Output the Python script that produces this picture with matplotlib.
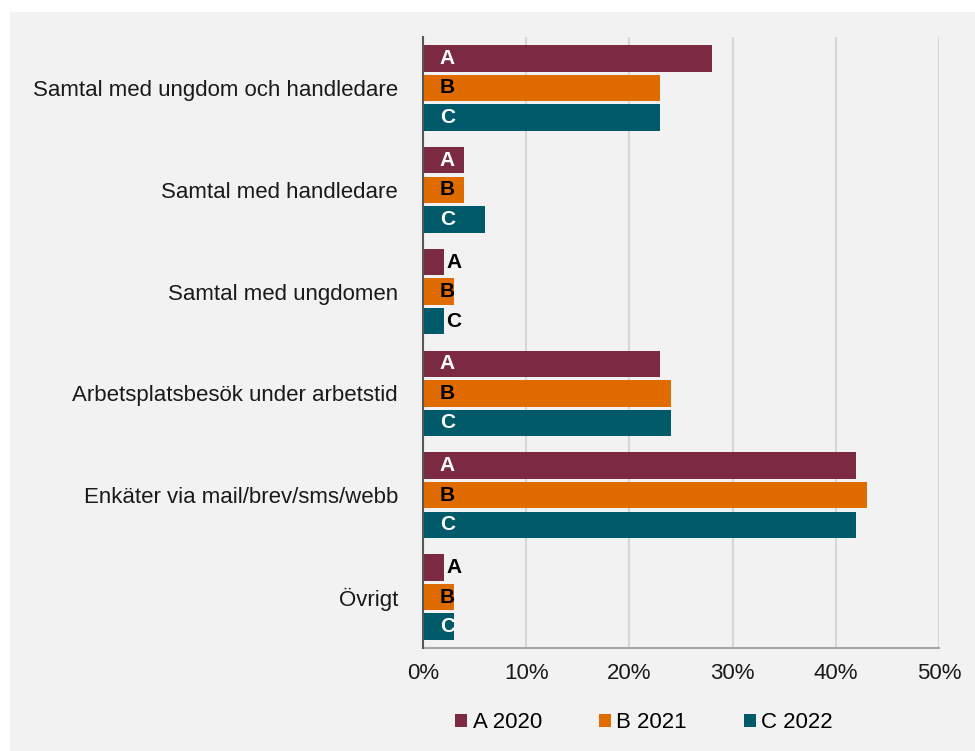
import numpy as np
import matplotlib.pyplot as plt
from matplotlib.patches import Rectangle

plt.rcParams['font.family'] = ['Liberation Sans', 'DejaVu Sans']

# data (percent)
categories = ['Samtal med ungdom och handledare', 'Samtal med handledare',
              'Samtal med ungdomen', 'Arbetsplatsbesök under arbetstid',
              'Enkäter via mail/brev/sms/webb', 'Övrigt']
series_names = ['A 2020', 'B 2021', 'C 2022']
bar_letters = ['A', 'B', 'C']
vals_a = [28, 4, 2, 23, 42, 2]
vals_b = [23, 4, 3, 24, 43, 3]
vals_c = [23, 6, 2, 24, 42, 3]
xticks = [0, 10, 20, 30, 40, 50]

colors = ['#7B2A42', '#E06C00', '#005A69']
text_inside = ['white', 'black', 'white']

fig = plt.figure(figsize=(9.75, 7.51), dpi=100)
fig.patches.append(Rectangle((10/975, 0), 1, 1 - 12/751, transform=fig.transFigure,
                             facecolor='#f2f2f2', edgecolor='none', zorder=-10))
ax = fig.add_axes([423/975, 1 - 648/751, (939-423)/975, (648-37)/751])
ax.set_facecolor('none')

y = np.arange(len(categories))
pitch = 0.29
height = 0.26
for i, (vals, c) in enumerate(zip([vals_a, vals_b, vals_c], colors)):
    pos = y + (i - 1) * pitch
    ax.barh(pos, vals, height=height, color=c, label=series_names[i], zorder=3)
    for p, v in zip(pos, vals):
        if v <= 2:
            # too short: letter goes just past the bar end
            ax.annotate(bar_letters[i], (v, p), xytext=(2, 0), textcoords='offset points',
                        ha='left', va='center', fontsize=15, fontweight='bold', color='black')
        else:
            ax.annotate(bar_letters[i], (0, p), xytext=(12, 0), textcoords='offset points',
                        ha='left', va='center', fontsize=15, fontweight='bold', color=text_inside[i])

ax.set_ylim(len(categories) - 0.5, -0.5)
ax.set_xlim(0, 50)
ax.set_yticks(y)
ax.set_yticklabels(categories, fontsize=16, color='#1a1a1a')
ax.set_xticks(xticks)
ax.set_xticklabels([f'{t}%' for t in xticks], fontsize=16, color='#1a1a1a')
ax.tick_params(axis='both', length=0)
ax.tick_params(axis='y', pad=18)
ax.tick_params(axis='x', pad=11)
ax.grid(axis='x', color='#d6d6d6', linewidth=1.5, zorder=0)
for s in ['top', 'right']:
    ax.spines[s].set_visible(False)
ax.spines['left'].set_color('#595959')
ax.spines['left'].set_linewidth(1.5)
ax.spines['left'].set_zorder(4)
ax.spines['bottom'].set_color('#a6a6a6')
ax.spines['bottom'].set_linewidth(1.5)

ax.legend(loc='center', bbox_to_anchor=(644/975, 1 - 723/751), bbox_transform=fig.transFigure,
          ncol=3, frameon=False, fontsize=16, handlelength=0.55, handleheight=0.55,
          handletextpad=0.25, columnspacing=2.55)

fig.savefig('out.png', dpi=100)
